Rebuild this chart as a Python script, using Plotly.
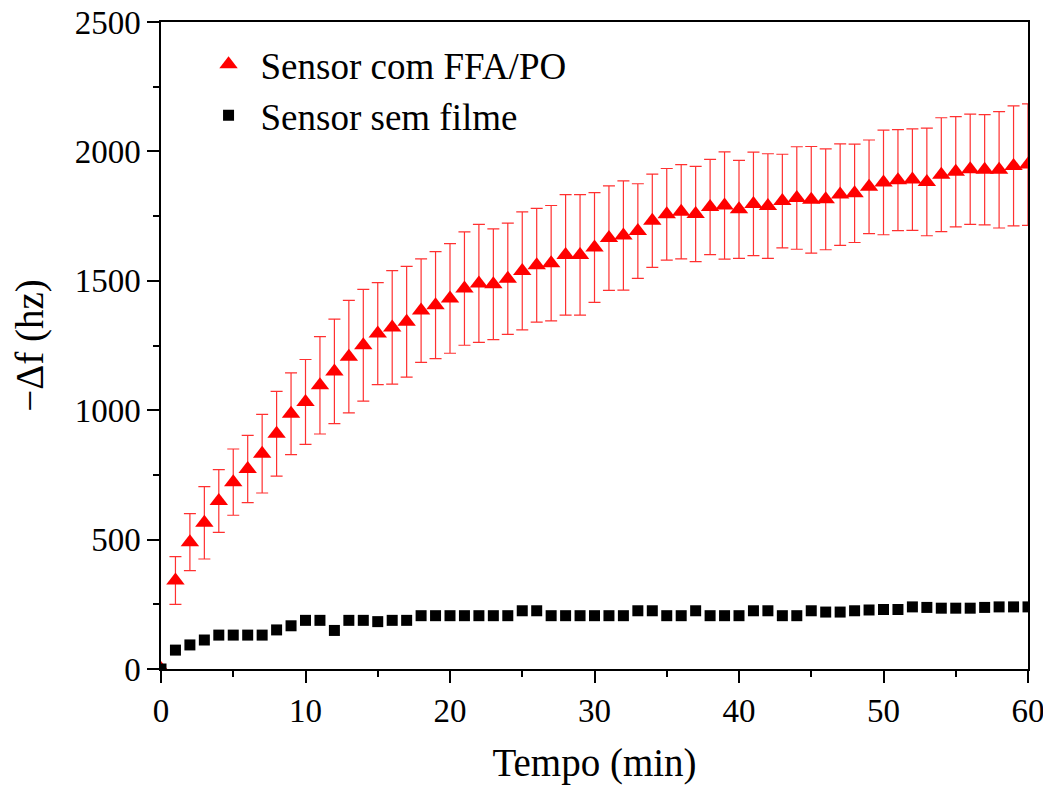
import plotly.graph_objects as go

tempo = list(range(0, 61))

ffa_po = [0, 342, 490, 565, 649, 722, 773, 832, 909, 986, 1032, 1096, 1150, 1207, 1251, 1296,
          1320, 1342, 1385, 1406, 1432, 1470, 1490, 1487, 1508, 1538, 1560, 1568, 1600, 1600,
          1629, 1665, 1675, 1692, 1732, 1757, 1767, 1758, 1785, 1791, 1776, 1797, 1789, 1808,
          1820, 1813, 1815, 1833, 1838, 1863, 1880, 1889, 1891, 1882, 1910, 1921, 1931, 1929,
          1929, 1944, 1949]
ffa_po_err = [0, 92, 110, 140, 121, 128, 130, 152, 164, 158, 164, 188, 202, 217, 216, 197,
              219, 214, 200, 207, 212, 219, 228, 214, 215, 228, 220, 223, 233, 233,
              212, 202, 211, 183, 180, 177, 182, 184, 184, 207, 189, 200, 202, 181,
              198, 206, 195, 196, 190, 181, 202, 195, 196, 208, 220, 213, 213, 213,
              225, 232, 235]

sem_filme = [0, 73, 93, 112, 131, 131, 131, 131, 151, 167, 188, 188, 149, 188, 188, 183,
             188, 188, 206, 206, 206, 206, 206, 206, 206, 225, 225, 206, 206, 206,
             206, 206, 206, 225, 225, 206, 206, 225, 206, 206, 206, 225, 225, 206,
             206, 225, 220, 220, 225, 228, 230, 230, 240, 238, 235, 235, 235, 238,
             240, 240, 240]

x_ticks = [0, 10, 20, 30, 40, 50, 60]
x_minor = [5, 15, 25, 35, 45, 55]
y_ticks = [0, 500, 1000, 1500, 2000, 2500]
y_minor = [250, 750, 1250, 1750, 2250]

FONT = "Liberation Serif"

fig = go.Figure()
fig.add_trace(go.Scatter(
    x=tempo, y=ffa_po, mode="markers", name="Sensor com FFA/PO",
    marker=dict(symbol="triangle-up", size=16, color="#ff0000"),
    error_y=dict(type="data", array=ffa_po_err, visible=True, color="#ff3030",
                 thickness=1.2, width=6),
))
fig.add_trace(go.Scatter(
    x=tempo, y=sem_filme, mode="markers", name="Sensor sem filme",
    marker=dict(symbol="square", size=11, color="#000000"),
))

# the page body adds an 8px offset; size/margins compensate so the plot area
# spans x 161..1028 and y 22..669 in the 1051x785 window
fig.update_layout(
    width=1043, height=777,
    paper_bgcolor="white", plot_bgcolor="white",
    margin=dict(l=153, r=23, t=14, b=116),
    font=dict(family=FONT, color="black", size=33),
    showlegend=True,
    legend=dict(x=0.041, y=0.982, xanchor="left", yanchor="top",
                font=dict(family=FONT, size=37, color="black"),
                bgcolor="rgba(0,0,0,0)", itemsizing="trace", itemwidth=54,
                tracegroupgap=0),
)
fig.update_xaxes(
    range=[0, 60], tickvals=x_ticks, automargin=False, ticklabeloverflow="allow",
    ticks="outside", ticklen=12, tickwidth=1.5, tickcolor="black",
    minor=dict(tickvals=x_minor, ticks="outside", ticklen=6,
               tickwidth=1.5, tickcolor="black"),
    showline=True, linecolor="black", linewidth=1.5, mirror=True,
    showgrid=False, zeroline=False,
    tickfont=dict(family=FONT, size=33),
    title=dict(text="Tempo (min)", font=dict(family=FONT, size=39), standoff=30),
)
fig.update_yaxes(
    range=[0, 2500], tickvals=y_ticks, automargin=False, ticklabeloverflow="allow",
    ticks="outside", ticklen=12, tickwidth=1.5, tickcolor="black",
    minor=dict(tickvals=y_minor, ticks="outside", ticklen=6,
               tickwidth=1.5, tickcolor="black"),
    showline=True, linecolor="black", linewidth=1.5, mirror=True,
    showgrid=False, zeroline=False,
    tickfont=dict(family=FONT, size=33),
    title=dict(text="\u2212\u0394f (hz)", font=dict(family=FONT, size=39), standoff=30),
)

fig.write_html("out.html")
